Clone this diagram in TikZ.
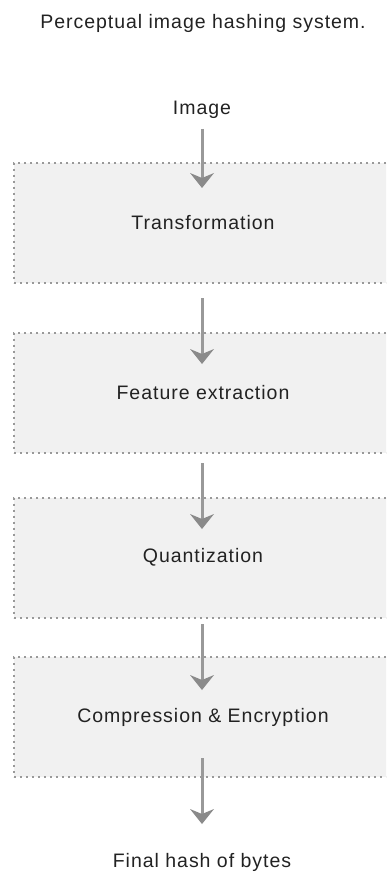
\documentclass[tikz,border=0pt]{standalone}
\usepackage{fontspec}
\setmainfont{Liberation Sans}[LetterSpace=5]
\usetikzlibrary{arrows.meta}
\definecolor{boxfill}{HTML}{F1F1F1}
\definecolor{boxline}{HTML}{999999}
\definecolor{arrowgray}{HTML}{999999}
\definecolor{headgray}{HTML}{8A8A8A}
\definecolor{txt}{HTML}{222222}
\tikzset{
  stagebox/.style={draw=boxline, fill=boxfill, line width=2.2pt, dash pattern=on 2pt off 4pt,
    minimum width=378pt, minimum height=120pt, inner sep=0pt, text=txt,
    font=\fontsize{19.5}{22}\selectfont},
  lbl/.style={text=txt, inner sep=0pt, font=\fontsize{19.5}{22}\selectfont},
  flow/.style={draw=arrowgray, line width=3pt,
    -{Stealth[length=15pt, width=24pt, inset=5pt, fill=headgray, line width=0pt]}}
}
\begin{document}
\begin{tikzpicture}[x=1pt, y=-1pt]
\useasboundingbox (0,0) rectangle (386,877);
\clip (0,0) rectangle (386,877);
\node[lbl] (title) at (203,23) {Perceptual image hashing system.};
\node[lbl] (img) at (202,110) {Image};
\node[stagebox] (b1) at (203,222.7) {Transformation};
\node[stagebox] (b2) at (203,392.7) {Feature extraction};
\node[stagebox] (b3) at (203,557.7) {Quantization};
\node[stagebox] (b4) at (203,717) {Compression \& Encryption};
\node[lbl] (final) at (202,862) {Final hash of bytes};
\coordinate (s1) at (202,129); \coordinate (e1) at (202,188);
\coordinate (s2) at (202,298); \coordinate (e2) at (202,364);
\coordinate (s3) at (202,463); \coordinate (e3) at (202,529);
\coordinate (s4) at (202,624); \coordinate (e4) at (202,690);
\coordinate (s5) at (202,758); \coordinate (e5) at (202,824);
\draw[flow] (s1) -- (e1);
\draw[flow] (s2) -- (e2);
\draw[flow] (s3) -- (e3);
\draw[flow] (s4) -- (e4);
\draw[flow] (s5) -- (e5);
\end{tikzpicture}
\end{document}
